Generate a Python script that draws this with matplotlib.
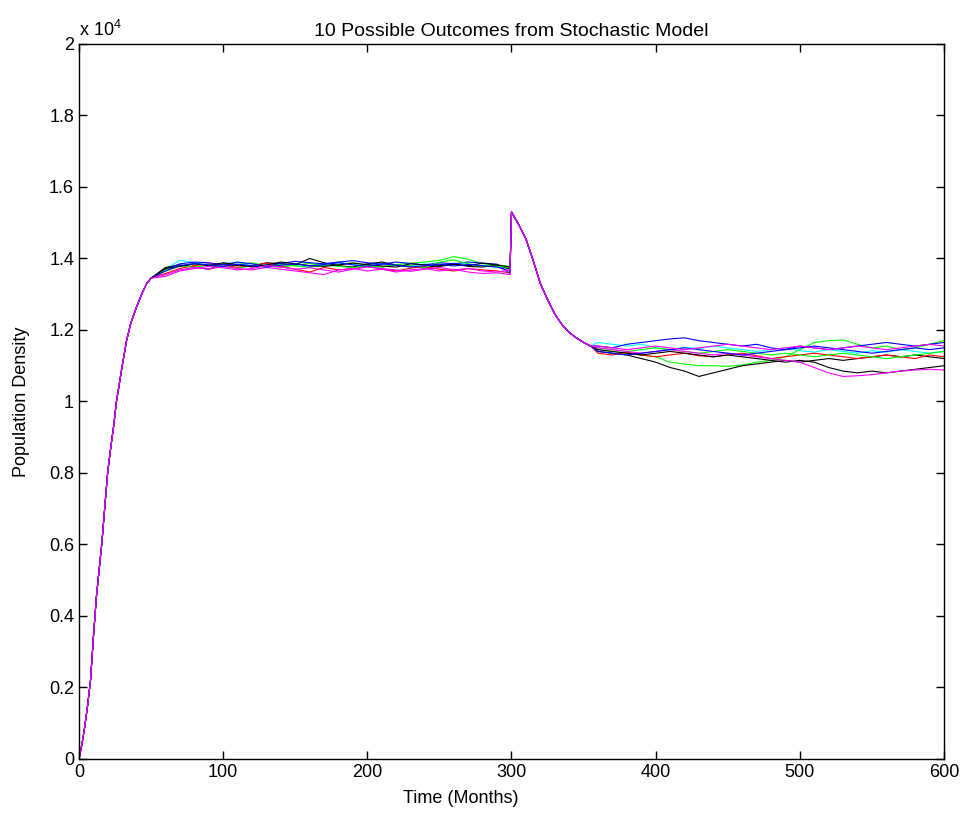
import matplotlib
matplotlib.use("Agg")
import matplotlib.pyplot as plt
from matplotlib.ticker import FuncFormatter, MultipleLocator

plt.rcParams['font.family'] = ['Liberation Sans', 'DejaVu Sans']
plt.rcParams['mathtext.fontset'] = 'custom'
plt.rcParams['mathtext.rm'] = 'Liberation Sans'

# shared start-up curve (all runs overlap here)
t_rise = [0, 2, 4, 6, 8, 10, 12, 14, 16, 18, 20, 22, 24, 26, 28, 30, 33, 36, 40, 44, 47, 50]
rise = [0, 400, 900, 1500, 2200, 3400, 4500, 5300, 6100, 7100, 8050, 8700, 9300,
        10000, 10500, 11000, 11700, 12200, 12650, 13050, 13300, 13450]

# plateau, one row per run
t_plateau = [60, 70, 80, 90, 100, 110, 120, 130, 140, 150, 160, 170, 180, 190,
             200, 210, 220, 230, 240, 250, 260, 270, 280, 290, 299]
plateau = [
    [13700, 13950, 13880, 13820, 13850, 13900, 13780, 13840, 13870, 13800, 13760, 13850, 13900,
     13830, 13790, 13860, 13820, 13780, 13850, 13810, 13870, 13840, 13790, 13760, 13720],
    [13650, 13780, 13850, 13800, 13760, 13830, 13880, 13800, 13750, 13820, 13860, 13790, 13840,
     13880, 13800, 13760, 13830, 13870, 13900, 13950, 14050, 13980, 13850, 13820, 13780],
    [13750, 13820, 13760, 13700, 13850, 13800, 13780, 13880, 13850, 13820, 14000, 13880, 13800,
     13760, 13850, 13900, 13820, 13780, 13750, 13800, 13850, 13780, 13760, 13820, 13700],
    [13580, 13720, 13800, 13850, 13820, 13750, 13800, 13870, 13780, 13700, 13620, 13750, 13680,
     13720, 13780, 13700, 13650, 13730, 13780, 13700, 13650, 13720, 13680, 13650, 13600],
    [13700, 13850, 13900, 13880, 13820, 13900, 13850, 13780, 13860, 13920, 13880, 13850, 13900,
     13940, 13880, 13840, 13900, 13860, 13820, 13880, 13850, 13900, 13870, 13840, 13580],
    [13680, 13800, 13750, 13820, 13780, 13720, 13800, 13760, 13830, 13790, 13750, 13820, 13780,
     13740, 13800, 13760, 13820, 13790, 13750, 13900, 13960, 13850, 13800, 13780, 13750],
    [13720, 13780, 13850, 13800, 13880, 13830, 13760, 13820, 13900, 13850, 13800, 13780, 13820,
     13870, 13830, 13790, 13760, 13850, 13820, 13780, 13830, 13800, 13870, 13820, 13760],
    [13550, 13680, 13750, 13700, 13780, 13720, 13680, 13750, 13700, 13650, 13600, 13550, 13680,
     13720, 13650, 13700, 13620, 13680, 13720, 13650, 13700, 13620, 13580, 13600, 13550],
    [13650, 13800, 13860, 13820, 13780, 13840, 13800, 13760, 13810, 13850, 13790, 13830, 13880,
     13820, 13780, 13850, 13810, 13760, 13800, 13840, 13790, 13830, 13800, 13760, 13650],
    [13500, 13650, 13720, 13780, 13740, 13680, 13720, 13800, 13760, 13700, 13740, 13680, 13620,
     13700, 13760, 13720, 13680, 13640, 13700, 13750, 13680, 13720, 13650, 13620, 13680],
]

# jump at month 300 and decay (shared)
t_decay = [300, 305, 310, 315, 320, 325, 330, 335, 340, 345, 350, 355]
decay = [15300, 14950, 14550, 13950, 13300, 12850, 12450, 12150, 11930, 11780, 11650, 11550]

# second plateau, one row per run
t_tail = [360, 370, 380, 390, 400, 410, 420, 430, 440, 450, 460, 470, 480, 490,
          500, 510, 520, 530, 540, 550, 560, 570, 580, 590, 600]
tail = [
    [11650, 11600, 11550, 11600, 11500, 11450, 11520, 11480, 11550, 11500, 11450, 11400, 11450,
     11500, 11420, 11380, 11450, 11400, 11350, 11420, 11380, 11450, 11400, 11350, 11400],
    [11450, 11400, 11350, 11300, 11250, 11100, 11050, 11000, 11000, 10980, 11020, 11100, 11150,
     11250, 11450, 11650, 11700, 11720, 11600, 11500, 11550, 11450, 11500, 11600, 11700],
    [11400, 11350, 11300, 11200, 11100, 10950, 10850, 10700, 10800, 10900, 11000, 11050, 11100,
     11150, 11100, 11150, 11200, 11150, 11200, 11250, 11300, 11250, 11300, 11250, 11200],
    [11350, 11300, 11380, 11300, 11250, 11300, 11350, 11280, 11250, 11300, 11350, 11280, 11200,
     11250, 11300, 11350, 11300, 11250, 11200, 11250, 11300, 11250, 11200, 11300, 11250],
    [11550, 11500, 11600, 11650, 11700, 11750, 11780, 11700, 11650, 11600, 11550, 11600, 11500,
     11450, 11550, 11500, 11450, 11500, 11550, 11600, 11650, 11600, 11550, 11600, 11650],
    [11500, 11450, 11400, 11450, 11500, 11450, 11400, 11350, 11400, 11450, 11400, 11350, 11300,
     11350, 11300, 11250, 11300, 11350, 11300, 11250, 11200, 11250, 11300, 11350, 11400],
    [11450, 11400, 11350, 11300, 11350, 11400, 11350, 11300, 11250, 11300, 11250, 11200, 11150,
     11100, 11150, 11100, 10950, 10850, 10800, 10850, 10800, 10850, 10900, 10950, 11000],
    [11500, 11450, 11400, 11350, 11400, 11450, 11400, 11350, 11300, 11350, 11300, 11250, 11200,
     11150, 11100, 10950, 10800, 10700, 10720, 10750, 10800, 10850, 10880, 10900, 10880],
    [11400, 11350, 11300, 11350, 11400, 11450, 11500, 11450, 11400, 11350, 11300, 11350, 11400,
     11450, 11500, 11550, 11500, 11450, 11400, 11350, 11400, 11450, 11500, 11450, 11500],
    [11550, 11500, 11450, 11500, 11550, 11500, 11450, 11500, 11550, 11600, 11550, 11500, 11450,
     11500, 11550, 11500, 11450, 11500, 11550, 11500, 11450, 11500, 11550, 11600, 11550],
]

# matlab-style pure colours
colors = ['#00ffff', '#00ff00', '#000000', '#ff0000', '#0000ff',
          '#00ff00', '#000000', '#ff00ff', '#0000ff', '#ff00ff']

fig = plt.figure(figsize=(9.62, 8.19), dpi=100)
ax = fig.add_axes([0.0821, 0.0733, 0.8992, 0.873])

t_all = t_rise + t_plateau + t_decay + t_tail
for i in range(len(plateau)):
    y = rise + plateau[i] + decay + tail[i]
    ax.plot(t_all, y, color=colors[i], lw=0.8)

ax.set_xlim(0, 600)
ax.set_ylim(0, 20000)
ax.xaxis.set_major_locator(MultipleLocator(100))
ax.yaxis.set_major_locator(MultipleLocator(2000))
ax.yaxis.set_major_formatter(FuncFormatter(lambda v, p: '%g' % (v / 1e4)))
ax.tick_params(direction='in', length=6, top=True, right=True, labelsize=13, width=1)
for s in ax.spines.values():
    s.set_linewidth(1)

ax.set_title('10 Possible Outcomes from Stochastic Model', fontsize=14, pad=6)
ax.set_xlabel('Time (Months)', fontsize=13)
ax.xaxis.set_label_coords(0.4416, -0.043)
ax.set_ylabel('Population Density', fontsize=13, labelpad=14)
ax.text(0.0, 1.006, r'x 10$^{\mathrm{4}}$', transform=ax.transAxes, fontsize=13, ha='left', va='bottom')

fig.savefig('out.png', dpi=100)
